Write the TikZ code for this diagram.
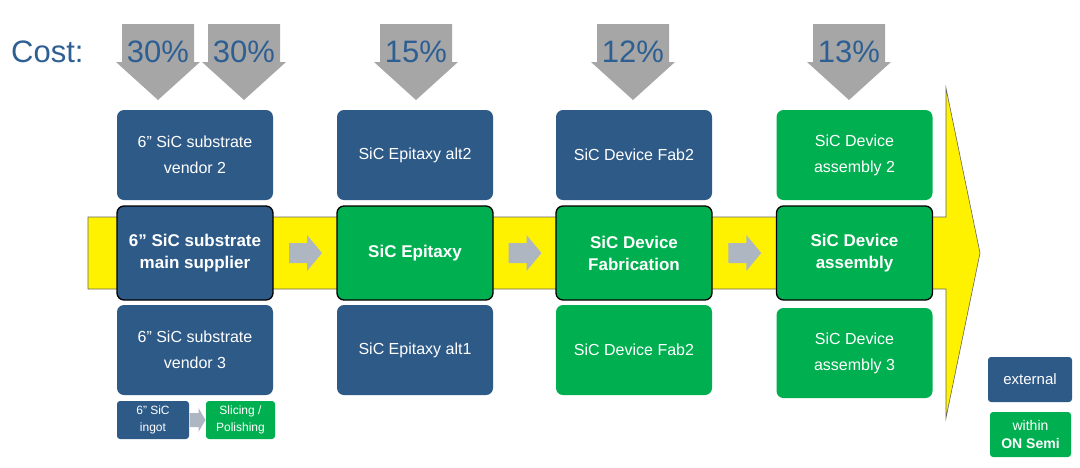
\documentclass[tikz,border=0pt]{standalone}
\usepackage{fontspec}
\setmainfont{Liberation Sans}
\definecolor{extblue}{HTML}{2E5A88}
\definecolor{ongreen}{HTML}{00B050}
\definecolor{costgray}{HTML}{A6A6A6}
\definecolor{costtext}{HTML}{2E5F93}
\definecolor{flowgray}{HTML}{AEB6C2}
\begin{document}
\begin{tikzpicture}[x=1pt,y=-1pt,
  box/.style={rounded corners=7pt, minimum width=156pt, minimum height=90pt, align=center, text=white, font=\fontsize{16}{26}\selectfont, inner sep=0pt},
  ext/.style={box, fill=extblue},
  own/.style={box, fill=ongreen},
  mainbox/.style={draw=black, line width=1.3pt, minimum height=94pt, font=\bfseries\fontsize{17}{22}\selectfont},
  small/.style={rounded corners=3pt, align=center, text=white, font=\fontsize{12}{17}\selectfont, inner sep=0pt},
  costlbl/.style={text=costtext, font=\fontsize{31}{33}\selectfont, inner sep=0pt},
  costarr/.style={fill=costgray},
  flow/.style={fill=flowgray}
]
\useasboundingbox (0,0) rectangle (1080,467);
% big yellow arrow
\draw[fill=yellow, draw=gray!80!black, line width=0.6pt] (88,217) -- (946,217) -- (946,88) -- (980,253) -- (946,418) -- (946,289) -- (88,289) -- cycle;
% cost arrows
\foreach \c in {158,244,416,633,849}{
  \fill[costarr] (\c-36,24) -- (\c+36,24) -- (\c+36,62) -- (\c+42,62) -- (\c,100) -- (\c-42,62) -- (\c-36,62) -- cycle;
}
\node[costlbl, anchor=west] (cost) at (11,52) {Cost:};
\node[costlbl] (c1) at (158,52) {30\%};
\node[costlbl] (c2) at (244,52) {30\%};
\node[costlbl] (c3) at (416,52) {15\%};
\node[costlbl] (c4) at (633,52) {12\%};
\node[costlbl] (c5) at (849,52) {13\%};
% column 1
\node[ext] (v2) at (195,155) {6” SiC substrate\\vendor 2};
\node[ext, mainbox] (m1) at (195,253) {6” SiC substrate\\main supplier};
\node[ext] (v3) at (195,350) {6” SiC substrate\\vendor 3};
\node[small, fill=extblue, minimum width=72pt, minimum height=38pt] (ingot) at (153,420) {6” SiC\\ingot};
\node[small, fill=ongreen, minimum width=69pt, minimum height=38pt] (slice) at (240.5,420) {Slicing /\\Polishing};
% column 2
\node[ext] (e2) at (415,155) {SiC Epitaxy alt2};
\node[own, mainbox] (m2) at (415,253) {SiC Epitaxy};
\node[ext] (e1) at (415,350) {SiC Epitaxy alt1};
% column 3
\node[ext] (f2) at (634,155) {SiC Device Fab2};
\node[own, mainbox] (m3) at (634,253) {SiC Device\\Fabrication};
\node[own] (f2b) at (634,350) {SiC Device Fab2};
% column 4
\node[own] (a2) at (854.5,155) {SiC Device\\assembly 2};
\node[own, mainbox] (m4) at (854.5,253) {SiC Device\\assembly};
\node[own] (a3) at (854.5,353) {SiC Device\\assembly 3};
% flow arrows between main boxes
\foreach \a/\b in {m1/m2, m2/m3, m3/m4}{
  \path (\a.east) -- (\b.west) coordinate[pos=0.5] (mid);
  \fill[flow] ([shift={(-16,-10)}]mid) -- ([shift={(2,-10)}]mid) -- ([shift={(2,-18)}]mid) -- ([shift={(17,0)}]mid) -- ([shift={(2,18)}]mid) -- ([shift={(2,10)}]mid) -- ([shift={(-16,10)}]mid) -- cycle;
}
% ingot -> slicing arrow
\path (ingot.east) -- (slice.west) coordinate[pos=0.5] (mi);
\fill[flow] ([shift={(-8,-7)}]mi) -- ([shift={(1,-7)}]mi) -- ([shift={(1,-12)}]mi) -- ([shift={(8,0)}]mi) -- ([shift={(1,12)}]mi) -- ([shift={(1,7)}]mi) -- ([shift={(-8,7)}]mi) -- cycle;
% legend
\node[small, fill=extblue, minimum width=84pt, minimum height=45pt, font=\fontsize{15}{17}\selectfont] (lext) at (1030,379.5) {external};
\node[small, fill=ongreen, minimum width=81pt, minimum height=45pt, font=\fontsize{14}{18}\selectfont] (lown) at (1030.5,434.5) {within\\\textbf{ON Semi}};
\end{tikzpicture}
\end{document}
